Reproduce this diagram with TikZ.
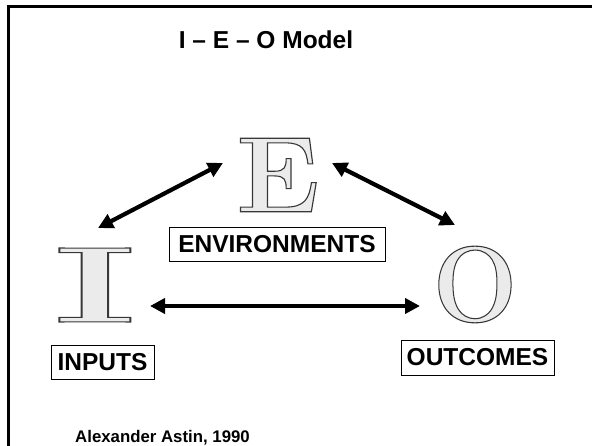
\documentclass[tikz,border=0pt]{standalone}
\usepackage{fontspec}
\setmainfont{Liberation Sans}
\newfontfamily\bigserif{Latin Modern Roman}
\usepackage{graphicx}
\usetikzlibrary{arrows.meta}
\definecolor{glyphfill}{HTML}{EBEBEB}
\newcommand{\outlined}[1]{{\color{glyphfill}\special{pdf:literal direct 1.1 w 0.22 0.22 0.22 RG 2 Tr}#1\special{pdf:literal direct 0 Tr}}}
\tikzset{
  lbl/.style={draw=black, line width=0.9pt, inner sep=0pt, font=\bfseries\fontsize{24.5}{24.5}\selectfont, text=black},
  bigletter/.style={inner sep=0pt, font=\bigserif\bfseries\fontsize{108}{108}\selectfont},
  conn/.style={line width=4.2pt, {Triangle[length=15pt,width=15pt]}-{Triangle[length=15pt,width=15pt]}},
}
\begin{document}
\begin{tikzpicture}[x=1pt,y=-1pt]
\useasboundingbox (0,0) rectangle (592,446);
% frame (top and left edges visible)
\draw[line width=3pt] (8,460) -- (8,6.5) -- (600,6.5);
% title
\node[font=\bfseries\fontsize{24.5}{24.5}\selectfont] (title) at (266,40) {I – E – O Model};
% big letters
\node[bigletter] (E) at (278,175) {\scalebox{1.05}[1]{\outlined{E}}};
\node[bigletter] (I) at (95,285) {\scalebox{1.85}[1]{\outlined{I}}};
\node[bigletter] (O) at (475,284.5) {\scalebox{0.93}[1]{\outlined{O}}};
% labels
\node[lbl, minimum width=216pt, minimum height=34pt] (env) at (277,244) {ENVIRONMENTS};
\node[lbl, minimum width=103pt, minimum height=34pt] (inp) at (102.5,362) {INPUTS};
\node[lbl, minimum width=153pt, minimum height=35pt] (out) at (477.5,357.5) {OUTCOMES};
% author
\node[font=\bfseries\fontsize{16.8}{16.8}\selectfont, anchor=west, inner sep=0pt] (author) at (75,437.5) {Alexander Astin, 1990};
% connector ends
\coordinate (ie1) at (98,228);
\coordinate (ie2) at (223,163);
\coordinate (eo1) at (332,163);
\coordinate (eo2) at (455,225);
\coordinate (io1) at (150,306);
\coordinate (io2) at (420,306);
\draw[conn] (ie1) -- (ie2);
\draw[conn] (eo1) -- (eo2);
\draw[conn] (io1) -- (io2);
\end{tikzpicture}
\end{document}
